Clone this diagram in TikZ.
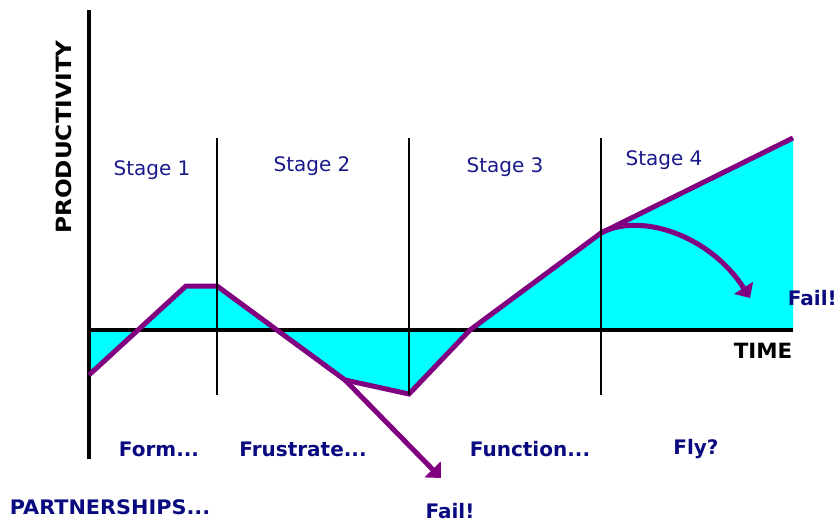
\documentclass[tikz,border=0pt]{standalone}
\usepackage{fontspec}
\setmainfont{DejaVu Sans}
\usetikzlibrary{arrows.meta}
\definecolor{navytext}{RGB}{10,10,128}
\definecolor{stagetext}{RGB}{25,25,140}
\definecolor{curvepurple}{RGB}{128,0,128}
\definecolor{fillcyan}{RGB}{0,255,255}
\tikzset{
  axisline/.style={line width=4.6pt,black},
  divider/.style={line width=1.8pt,black},
  prodcurve/.style={line width=5pt,curvepurple,line join=miter},
  failarrow/.style={line width=5pt,curvepurple,-{Triangle[width=22pt,length=12pt]}},
  stagelabel/.style={font=\fontsize{20}{24}\selectfont,text=stagetext,inner sep=0pt},
  phaselabel/.style={font=\fontsize{20}{24}\selectfont\bfseries,text=navytext,inner sep=0pt},
  axislabel/.style={font=\fontsize{20}{24}\selectfont\bfseries,text=black,inner sep=0pt}
}
\begin{document}
\begin{tikzpicture}[x=1pt,y=-1pt]
\useasboundingbox (0,0) rectangle (838,522);
% key points of the curve
\coordinate (p0) at (89,375);
\coordinate (p1) at (186,286);
\coordinate (p2) at (217,286);
\coordinate (p3) at (345,380);
\coordinate (p4) at (409,394);
\coordinate (p45) at (470,330);
\coordinate (p5) at (601,233);
\coordinate (p6) at (793,138);
\coordinate (o) at (89,330);
\coordinate (xend) at (793,330);
\coordinate (ytop) at (89,10);
\coordinate (ybot) at (89,459);
\coordinate (f1) at (441,478);
\coordinate (f2) at (750,298);
% fill
\fill[fillcyan] (o) -- (p0) -- (p1) -- (p2) -- (p3) -- (p4) -- (p45) -- (p5) -- (p6) -- (xend) -- cycle;
% axes
\draw[axisline] (ytop) -- (ybot);
\draw[axisline] (o) -- (xend);
% curve
\draw[prodcurve] (p0) -- (p1) -- (p2) -- (p3) -- (p4) -- (p45) -- (p5) -- (p6);
% fail arrows
\draw[failarrow] (p3) -- (f1);
\draw[failarrow] (p5) .. controls (640,212) and (710,235) .. (f2);
% dividers
\coordinate (d1t) at (217,138); \coordinate (d1b) at (217,395);
\coordinate (d2t) at (409,138); \coordinate (d2b) at (409,395);
\coordinate (d3t) at (601,138); \coordinate (d3b) at (601,395);
\draw[divider] (d1t) -- (d1b);
\draw[divider] (d2t) -- (d2b);
\draw[divider] (d3t) -- (d3b);
% labels
\node[axislabel,rotate=90] (prod) at (64,137) {\scalebox{1.16}[1.05]{PRODUCTIVITY}};
\node[axislabel] (time) at (763,351) {\scalebox{1.07}[1.05]{TIME}};
\node[stagelabel] (s1) at (152,170) {Stage 1};
\node[stagelabel] (s2) at (312,166) {Stage 2};
\node[stagelabel] (s3) at (505,167) {Stage 3};
\node[stagelabel] (s4) at (664,160) {Stage 4};
\node[phaselabel] (form) at (159,449) {Form...};
\node[phaselabel] (frus) at (303,449) {Frustrate...};
\node[phaselabel] (func) at (530,449) {Function...};
\node[phaselabel] (fly) at (696,449) {Fly?};
\node[phaselabel] (part) at (110,507) {\scalebox{1.04}[1]{PARTNERSHIPS...}};
\node[phaselabel] (fail1) at (450,511) {Fail!};
\node[phaselabel,anchor=east] (fail2) at (837,298) {Fail!};
\end{tikzpicture}
\end{document}
